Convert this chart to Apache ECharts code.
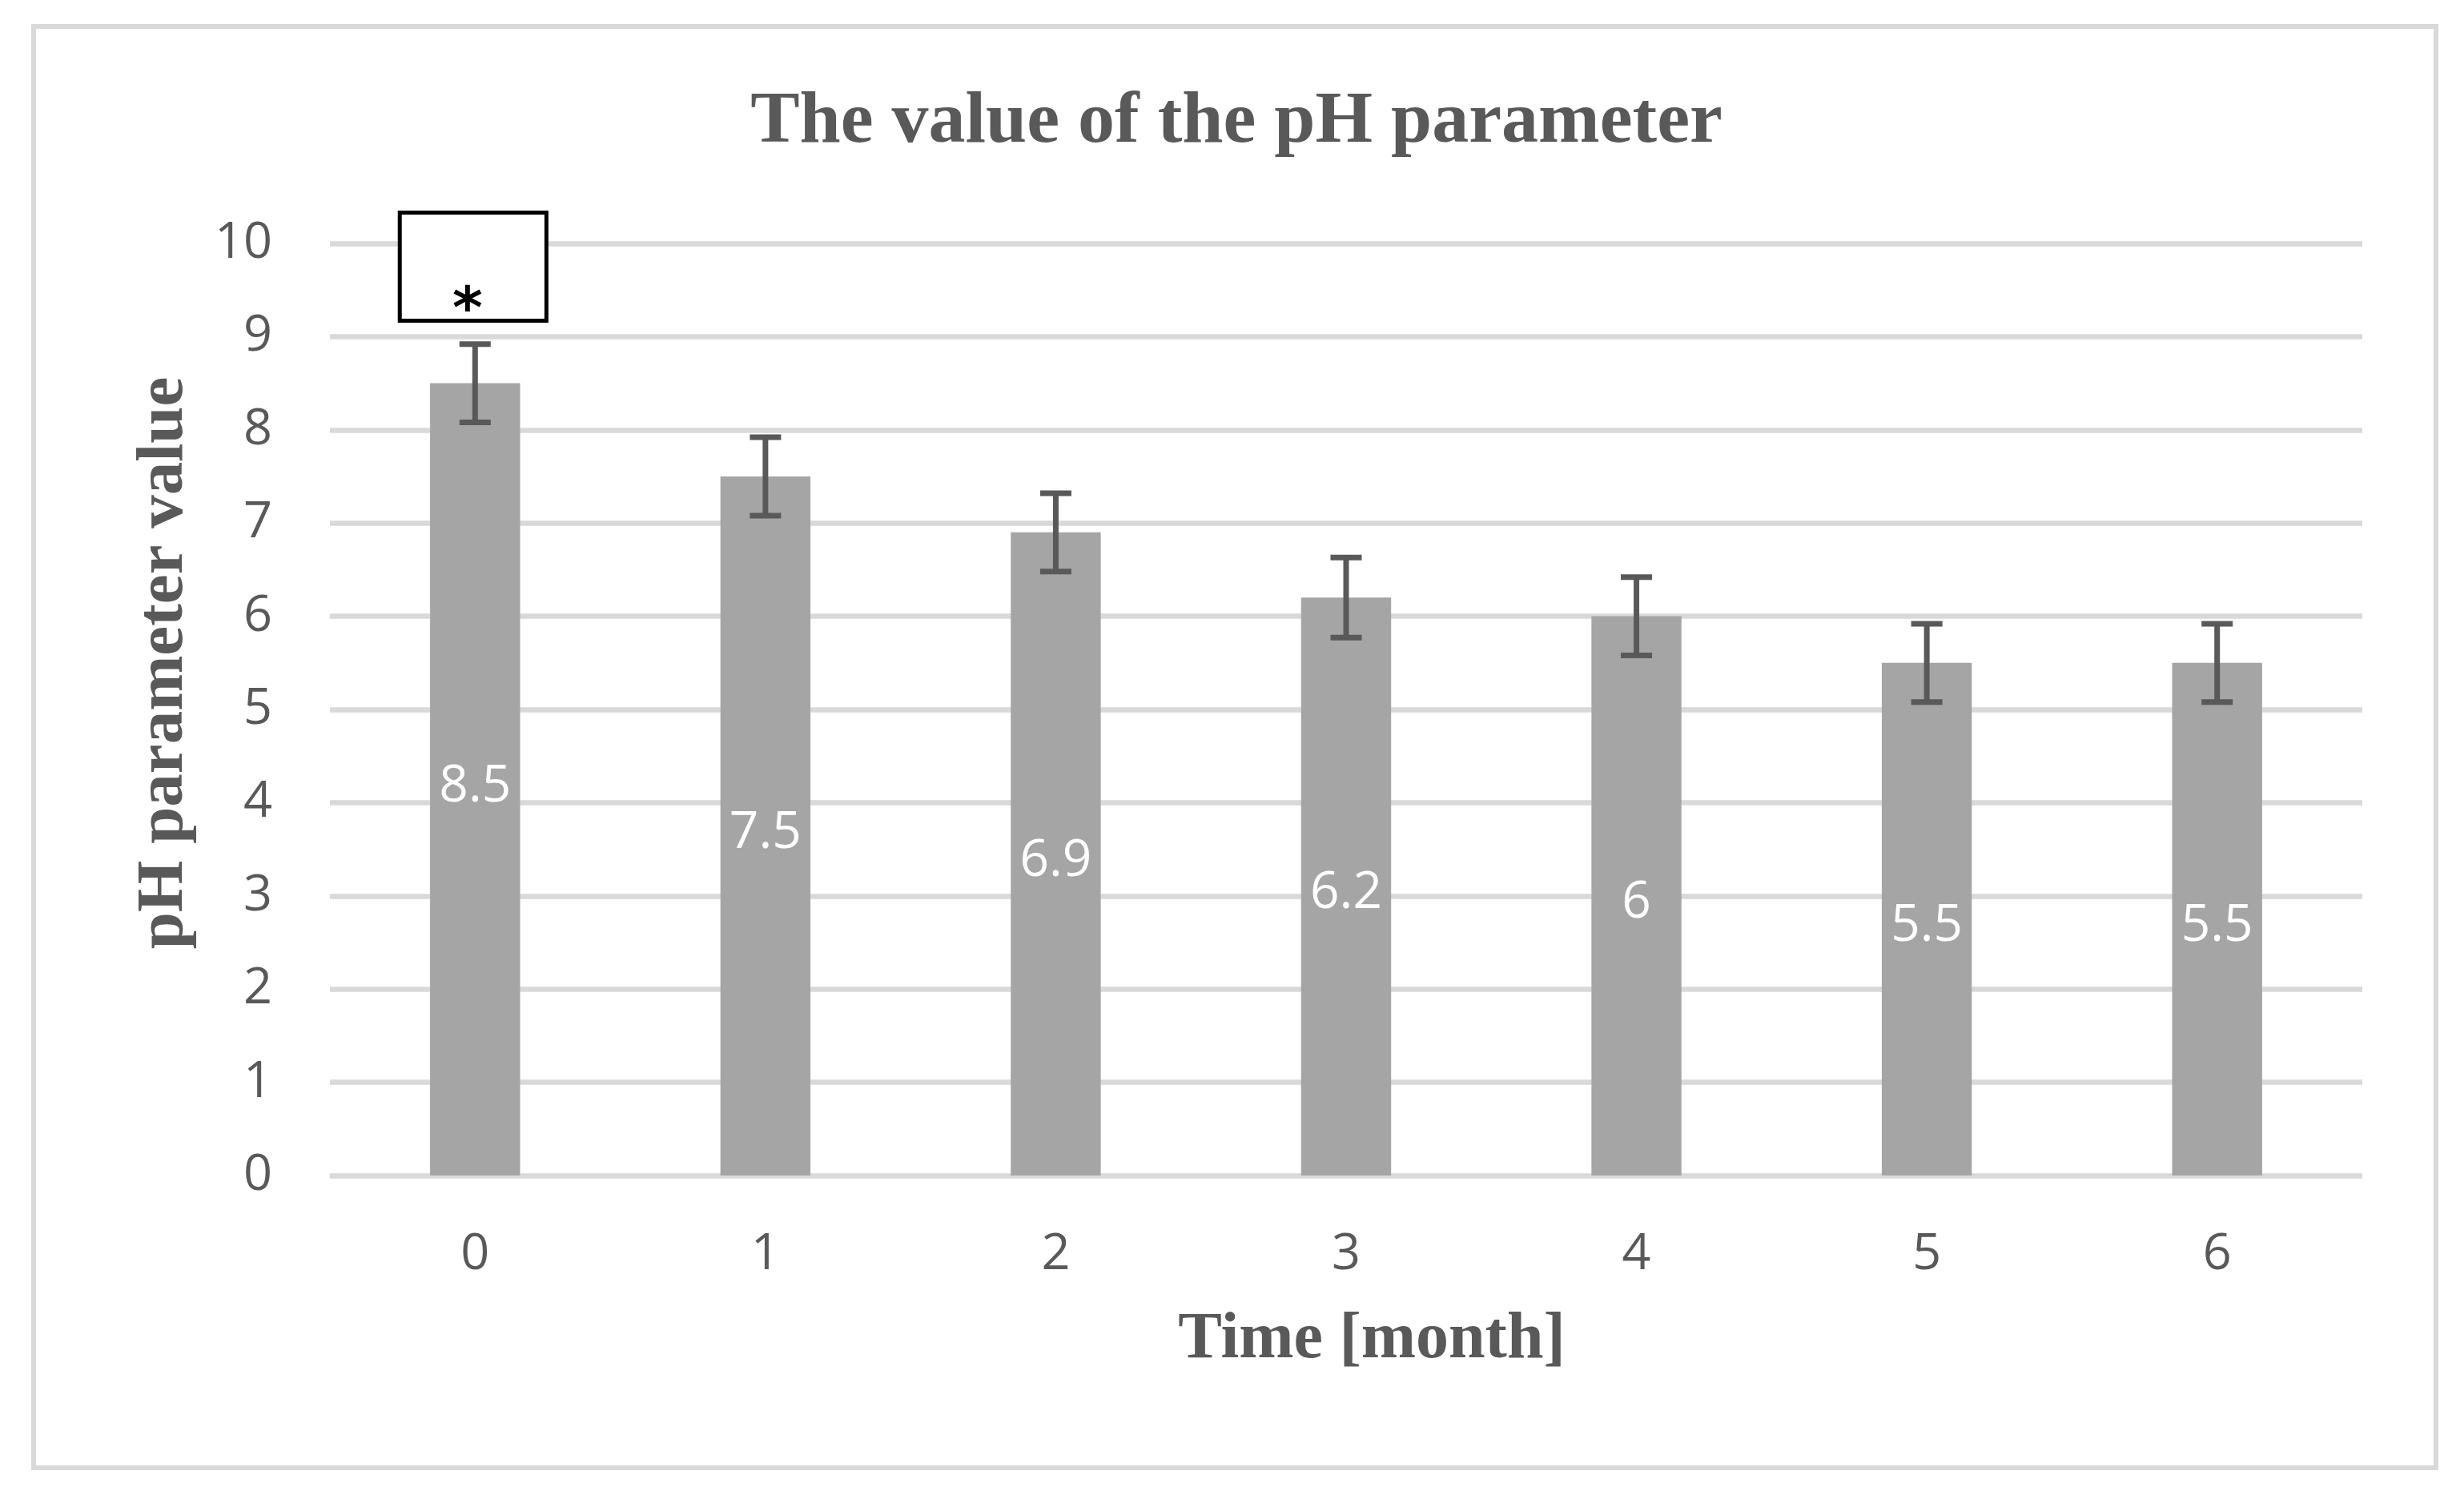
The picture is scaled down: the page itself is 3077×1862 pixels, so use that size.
<!DOCTYPE html>
<html><head><meta charset="utf-8">
<script src="https://cdn.jsdelivr.net/npm/echarts@6/dist/echarts.min.js"></script>
<style>html,body{margin:0;padding:0;background:#fff}#c{width:3077px;height:1862px}</style>
</head><body><div id="c"></div>
<script>
var categories = ['0','1','2','3','4','5','6'];
var phValues = [8.5, 7.5, 6.9, 6.2, 6, 5.5, 5.5];
var phErrors = [0.42, 0.42, 0.42, 0.43, 0.42, 0.42, 0.42];
var yTicks = {min: 0, max: 10, interval: 1};
var sigBox = [[0, 9.17, 10.33]];
var sigMark = '*';
var chartTitle = 'The value of the pH parameter';
var xTitle = 'Time [month]';
var yTitle = 'pH parameter value';

var errData = categories.map(function (c, i) { return [i, phValues[i] - phErrors[i], phValues[i] + phErrors[i]]; });

var chart = echarts.init(document.getElementById('c'), null, {renderer: 'canvas'});
var textColor = '#595959';
chart.setOption({
  animation: false,
  backgroundColor: '#fff',
  grid: {left: 412, right: 127, top: 304, bottom: 394, containLabel: false},
  graphic: [
    {type: 'rect', shape: {x: 42, y: 33, width: 3000, height: 1800}, style: {fill: 'none', stroke: '#D9D9D9', lineWidth: 6}, z: 0},
    {type: 'text', x: 1544, y: 153, style: {text: chartTitle, font: 'bold 92px "Liberation Serif"', fill: textColor, align: 'center', verticalAlign: 'middle'}},
    {type: 'text', x: 1713, y: 1674, style: {text: xTitle, font: 'bold 82px "Liberation Serif"', fill: textColor, align: 'center', verticalAlign: 'middle'}},
    {type: 'text', x: 206, y: 828, rotation: Math.PI / 2, style: {text: yTitle, font: 'bold 83px "Liberation Serif"', fill: textColor, align: 'center', verticalAlign: 'middle'}}
  ],
  xAxis: {
    type: 'category', data: categories,
    axisLine: {show: false}, axisTick: {show: false},
    axisLabel: {color: textColor, fontFamily: 'Open Sans', fontSize: 63, margin: 68},
    splitLine: {show: false}
  },
  yAxis: {
    type: 'value', min: yTicks.min, max: yTicks.max, interval: yTicks.interval,
    axisLine: {show: false}, axisTick: {show: false},
    axisLabel: {color: textColor, fontFamily: 'Open Sans', fontSize: 63, margin: 72},
    splitLine: {show: true, lineStyle: {color: '#D9D9D9', width: 6.5}}
  },
  series: [
    {
      type: 'bar', data: phValues, barWidth: '31%',
      itemStyle: {color: '#A5A5A5'},
      label: {show: true, position: 'inside', offset: [0, 9], color: '#fff', fontFamily: 'Open Sans', fontSize: 64},
      z: 2
    },
    {
      type: 'custom', data: errData, z: 5,
      renderItem: function (params, api) {
        var hi = api.coord([api.value(0), api.value(2)]);
        var lo = api.coord([api.value(0), api.value(1)]);
        var hw = 19.5, st = {stroke: '#595959', lineWidth: 7};
        return {type: 'group', children: [
          {type: 'line', shape: {x1: hi[0], y1: hi[1], x2: lo[0], y2: lo[1]}, style: st},
          {type: 'line', shape: {x1: hi[0] - hw, y1: hi[1], x2: hi[0] + hw, y2: hi[1]}, style: st},
          {type: 'line', shape: {x1: lo[0] - hw, y1: lo[1], x2: lo[0] + hw, y2: lo[1]}, style: st}
        ]};
      }
    },
    {
      type: 'custom', data: sigBox, z: 6,
      renderItem: function (params, api) {
        var top = api.coord([api.value(0), api.value(2)]);
        var bot = api.coord([api.value(0), api.value(1)]);
        var w = api.size([1, 0])[0] * 0.505;
        var cx = top[0] - 2.5;
        return {type: 'group', children: [
          {type: 'rect', shape: {x: cx - w / 2, y: top[1], width: w, height: bot[1] - top[1]}, style: {fill: '#fff', stroke: '#000', lineWidth: 5}},
          {type: 'text', x: cx - 7, y: bot[1] - 10, style: {text: sigMark, font: 'bold 72px "DejaVu Sans"', fill: '#000', align: 'center', verticalAlign: 'middle'}}
        ]};
      }
    }
  ]
});
</script></body></html>
